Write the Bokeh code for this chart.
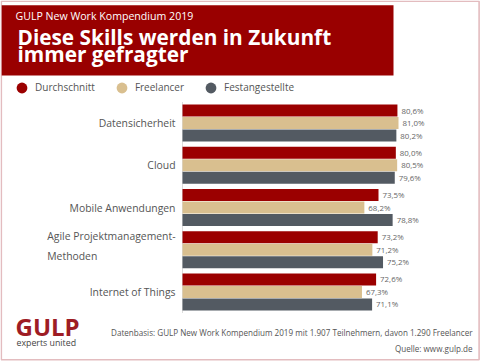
from bokeh.plotting import figure
from bokeh.models import (ColumnDataSource, Range1d, LabelSet, Label,
                          BoxAnnotation, Legend, LegendItem)
from bokeh.core.properties import value
from bokeh.transform import dodge
from bokeh.embed import file_html
from bokeh.resources import INLINE

# ---- data ----
categories = ["Datensicherheit", "Cloud", "Mobile Anwendungen",
              "Agile Projektmanagement-\nMethoden", "Internet of Things"]
durchschnitt = [80.6, 80.0, 73.5, 73.2, 72.6]
freelancer = [81.0, 80.5, 68.2, 71.2, 67.3]
festangestellte = [80.2, 79.6, 78.8, 75.2, 71.1]
series_names = ["Durchschnitt", "Freelancer", "Festangestellte"]
colors = ["#9b0000", "#d9bf8f", "#535a62"]

subtitle = "GULP New Work Kompendium 2019"
title_lines = ["Diese Skills werden in Zukunft", "immer gefragter"]
source_note = "Datenbasis: GULP New Work Kompendium 2019 mit 1.907 Teilnehmern, davon 1.290 Freelancer"
source_url = "Quelle: www.gulp.de"

FONT = "Open Sans"
W, H = 480, 361

# layout of the plotting area inside the canvas (pixels)
PLOT_LEFT = 182.0
kx = 216.0 / 81.0                 # pixels per percentage point
PLOT_TOP, PLOT_BOTTOM = 101.5, 312.5
n = len(categories)
ky = (PLOT_BOTTOM - PLOT_TOP) / n


def fmt(v):
    return f"{v:.1f}".replace(".", ",") + "%"


pos = list(range(n))[::-1]   # first category on top
label_dy = [4 * c.count("\n") for c in categories]   # lift multi-line labels slightly

src = ColumnDataSource(dict(
    cat=categories, pos=pos, dy=label_dy,
    d=durchschnitt, f=freelancer, e=festangestellte,
    dt=[fmt(v) for v in durchschnitt],
    ft=[fmt(v) for v in freelancer],
    et=[fmt(v) for v in festangestellte],
))

x_range = Range1d(-PLOT_LEFT / kx, (W - PLOT_LEFT) / kx)
y_range = Range1d(-0.5 - (H - PLOT_BOTTOM) / ky, -0.5 + PLOT_BOTTOM / ky)

p = figure(width=W, height=H, output_backend="svg", toolbar_location=None,
           title=None, x_axis_location=None, y_axis_location=None,
           x_range=x_range, y_range=y_range,
           min_border=0, min_border_left=0, min_border_right=0,
           min_border_top=0, min_border_bottom=0)
p.outline_line_color = None
p.xgrid.grid_line_color = None
p.ygrid.grid_line_color = None
p.background_fill_color = "white"
p.border_fill_color = "white"

# ---- axis line ----
p.segment(x0=[0], y0=[-0.5], x1=[0], y1=[n - 0.5], line_color="#dcdcdc", line_width=1)

# ---- bars ----
offsets = [0.296, 0.0, -0.296]
fields = ["d", "f", "e"]
tfields = ["dt", "ft", "et"]
for fld, tf, off, col in zip(fields, tfields, offsets, colors):
    p.hbar(y=dodge("pos", off), right=fld, left=0, height=0.285,
           source=src, fill_color=col, line_color=None)
    p.add_layout(LabelSet(x=fld, y=dodge("pos", off), text=tf,
                          source=src, x_offset=4, text_baseline="middle",
                          text_font=value(FONT), text_font_size=value("7.9px"),
                          text_color="#666666"))

# ---- category labels ----
p.add_layout(LabelSet(x=0, y="pos", text="cat", source=src, x_offset=-7, y_offset="dy",
                      text_align="right", text_baseline="middle",
                      text_font=value(FONT), text_font_size=value("10.4px"),
                      text_color="#555555", text_line_height=1.44))

# ---- legend ----
nan = float("nan")
dummies = [p.scatter(x=[nan], y=[nan], marker="circle", size=11, fill_color=c, line_color=None)
           for c in colors]
legend = Legend(items=[LegendItem(label=s, renderers=[r]) for s, r in zip(series_names, dummies)],
                orientation="horizontal",
                location=(8, H - 87.3 - 13.5),
                glyph_width=27, glyph_height=27, label_standoff=0, spacing=13,
                padding=0, margin=0, border_line_color=None, background_fill_alpha=0,
                label_text_font=FONT, label_text_font_size="10px",
                label_text_color="#555555")
p.add_layout(legend)


# ---- decorations (canvas units, y from top) ----
def px_box(left, right, top, bottom, **kw):
    b = BoxAnnotation(left=left, right=right, top=top, bottom=bottom,
                      left_units="canvas", right_units="canvas",
                      top_units="canvas", bottom_units="canvas", **kw)
    p.add_layout(b)
    return b


px_box(1.2, 393, 4.8, 75, fill_color="#990000", fill_alpha=1, line_color=None)
px_box(0.8, 478.6, 0.8, 359.2, fill_alpha=0, line_color="#a3202a", line_width=1.6)


def px_label(x, y, text, size, color, bold=False, align="left"):
    p.add_layout(Label(x=x, y=y, text=text, x_units="canvas", y_units="canvas",
                       text_font=FONT, text_font_size=size, text_color=color,
                       text_font_style="bold" if bold else "normal",
                       text_align=align, text_baseline="middle"))


px_label(15, 15.8, subtitle, "10.6px", "white")
px_label(17, 36.9, title_lines[0], "20.8px", "white", bold=True)
px_label(17, 53.9, title_lines[1], "20.8px", "white", bold=True)
px_label(15, 325.6, "GULP", "24px", "#9e1c24", bold=True)
px_label(16, 342.1, "experts united", "8.8px", "#444444")
px_label(472, 331.9, source_note, "8.1px", "#555555", align="right")
px_label(472, 348.4, source_url, "8.1px", "#555555", align="right")

open("out.html", "w").write(file_html(p, INLINE))
